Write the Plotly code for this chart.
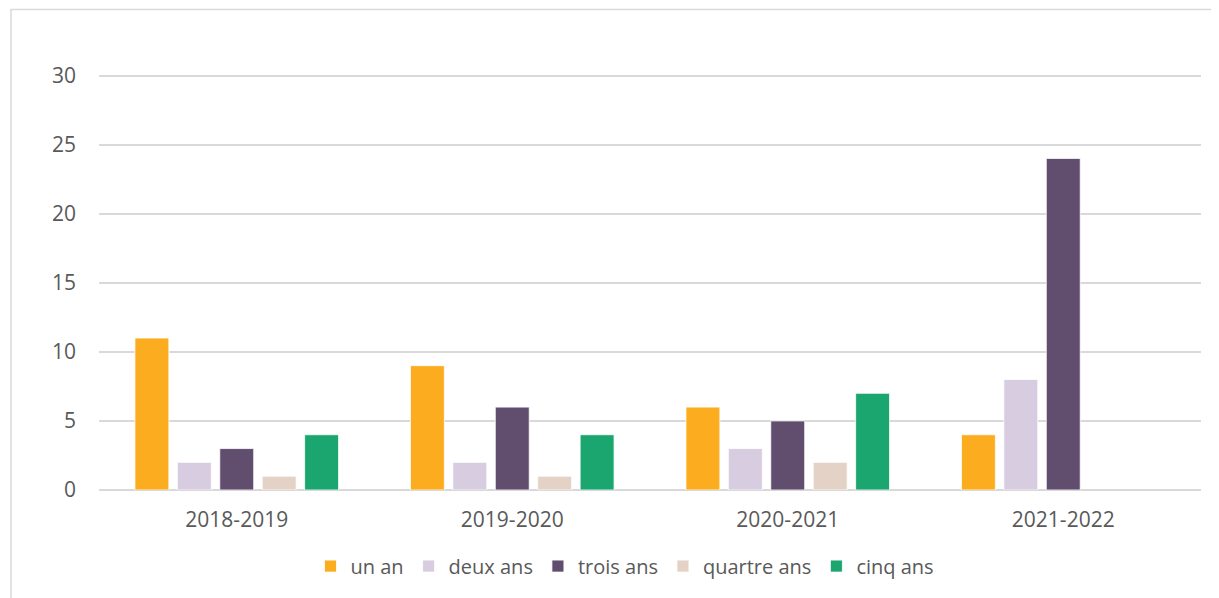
import plotly.graph_objects as go

categories = ["2018-2019", "2019-2020", "2020-2021", "2021-2022"]
series_names = ["un an", "deux ans", "trois ans", "quartre ans", "cinq ans"]
un_an = [11, 9, 6, 4]
deux_ans = [2, 2, 3, 8]
trois_ans = [3, 6, 5, 24]
quartre_ans = [1, 1, 2, 0]
cinq_ans = [4, 4, 7, 0]
y_ticks = [0, 5, 10, 15, 20, 25, 30]

series_values = [un_an, deux_ans, trois_ans, quartre_ans, cinq_ans]
colors = ["#FBAC1F", "#D7CCE0", "#614E6F", "#E3D2C5", "#1BA66F"]

OFF = 8  # page body margin
W, H = 1219 - OFF, 598 - OFF
ymax = 30.4
px_per_unit = 13.8
zero_page = 490
top_page = zero_page - ymax * px_per_unit
L = 99 - OFF
R = W - (1201 - OFF)
T = top_page - OFF
B = H - (zero_page - OFF)
pw, ph = W - L - R, H - T - B

fig = go.Figure()
for name, vals, col in zip(series_names, series_values, colors):
    fig.add_trace(go.Bar(
        x=categories, y=vals, name=name,
        marker=dict(color=col, line=dict(color="white", width=[0.8 if v else 0 for v in vals])),
    ))

font_family = "Open Sans, Liberation Sans, sans-serif"
fig.update_layout(
    width=W, height=H,
    margin=dict(l=L, r=R, t=T, b=B, pad=0),
    paper_bgcolor="white", plot_bgcolor="white",
    barmode="group", bargap=0.23, bargroupgap=0.2,
    font=dict(family=font_family, size=21, color="#595959"),
    showlegend=True,
    legend=dict(orientation="h", x=(625 - 99) / pw, xanchor="center", y=(zero_page - 566) / ph,
                yanchor="middle", font=dict(size=20, color="#595959"), itemwidth=30,
                traceorder="normal", itemclick=False),
    xaxis=dict(showgrid=False, showline=False, ticks="", tickfont=dict(size=21, color="#595959"),
               ticklabelstandoff=15),
    yaxis=dict(range=[0, ymax], tickvals=y_ticks, showgrid=True, gridcolor="#D9D9D9", gridwidth=1.5,
               zeroline=True, zerolinecolor="#D9D9D9", zerolinewidth=1.5, showline=False,
               tickfont=dict(size=21, color="#595959"), ticklabelstandoff=22),
    shapes=[dict(type="rect", xref="paper", yref="paper",
                 x0=(11 - 99) / pw, x1=(1240 - 99) / pw,
                 y0=(zero_page - 620) / ph, y1=(zero_page - 10) / ph,
                 line=dict(color="#D9D9D9", width=1.5), fillcolor="rgba(0,0,0,0)", layer="below")],
)

fig.write_html("out.html")
